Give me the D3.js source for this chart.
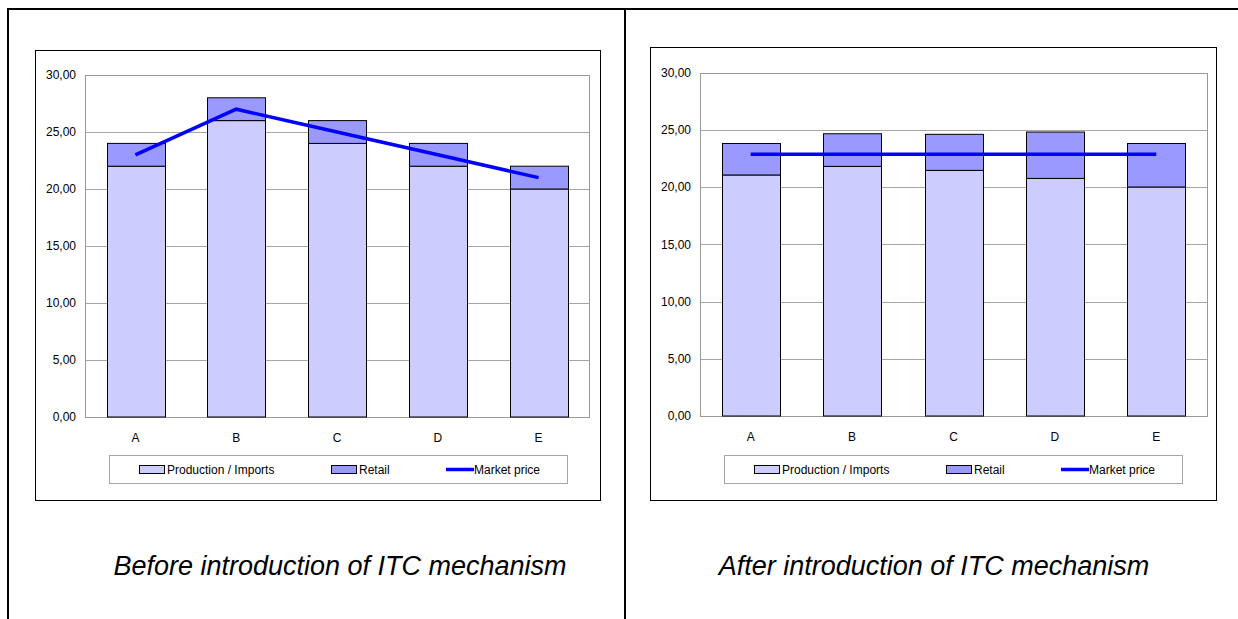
<!DOCTYPE html>
<html>
<head>
<meta charset="utf-8">
<script src="https://cdn.jsdelivr.net/npm/d3@7"></script>
<style>
  html, body { margin: 0; padding: 0; background: #fff; }
  svg { display: block; font-family: "Liberation Sans", Arial, sans-serif; }
</style>
</head>
<body>
<svg id="fig" width="1238" height="619"></svg>
<script>
// Cost build-up per supplier and market price, before and after the ITC mechanism
const categories = ["A", "B", "C", "D", "E"];
const beforeProduction = [22, 26, 24, 22, 20];
const beforeRetail = [2, 2, 2, 2, 2];
const beforePrice = [23, 27, 25, 23, 21];
const afterProduction = [21.05, 21.8, 21.45, 20.75, 20.0];
const afterRetail = [2.75, 2.85, 3.15, 4.05, 3.8];
const afterPrice = [22.85, 22.85, 22.85, 22.85, 22.85];
const yTicks = [0, 5, 10, 15, 20, 25, 30];
const seriesNames = ["Production / Imports", "Retail", "Market price"];
const captions = ["Before introduction of ITC mechanism", "After introduction of ITC mechanism"];

const colors = { production: "#CCCCFF", retail: "#9999FF", price: "#0000FF" };
const fmt = v => d3.format(".2f")(v).replace(".", ",");

const svg = d3.select("#fig");

// Page frame: top rule, left rule and the column divider
svg.append("line").attr("x1", 7).attr("x2", 1238).attr("y1", 9).attr("y2", 9)
  .attr("stroke", "#000").attr("stroke-width", 2);
svg.append("line").attr("x1", 8).attr("x2", 8).attr("y1", 8).attr("y2", 619)
  .attr("stroke", "#000").attr("stroke-width", 2);
svg.append("line").attr("x1", 625).attr("x2", 625).attr("y1", 8).attr("y2", 619)
  .attr("stroke", "#000").attr("stroke-width", 2);

const panels = [
  { box: [35, 50, 600, 500], plot: [85, 75, 589, 417], production: beforeProduction,
    retail: beforeRetail, price: beforePrice, caption: captions[0], captionX: 340 },
  { box: [650, 47, 1216, 500], plot: [700, 72.5, 1207, 416], production: afterProduction,
    retail: afterRetail, price: afterPrice, caption: captions[1], captionX: 934 }
];

panels.forEach(p => {
  const g = svg.append("g");
  const [bx0, by0, bx1, by1] = p.box;
  const [px0, py0, px1, py1] = p.plot;

  // chart area
  g.append("rect").attr("x", bx0 + 0.5).attr("y", by0 + 0.5)
    .attr("width", bx1 - bx0).attr("height", by1 - by0)
    .attr("fill", "#fff").attr("stroke", "#000").attr("stroke-width", 1);

  const x = d3.scaleBand().domain(categories).range([px0, px1]).paddingInner(0.4285).paddingOuter(0.2143);
  const y = d3.scaleLinear().domain([0, 30]).range([py1, py0]);

  // grid lines
  g.append("g").selectAll("line").data(yTicks.slice(1, -1)).join("line")
    .attr("x1", px0).attr("x2", px1)
    .attr("y1", d => Math.round(y(d)) + 0.5).attr("y2", d => Math.round(y(d)) + 0.5)
    .attr("stroke", "#a6a6a6").attr("stroke-width", 1);

  // plot area border
  g.append("rect").attr("x", px0 + 0.5).attr("y", Math.round(py0) + 0.5)
    .attr("width", px1 - px0).attr("height", Math.round(py1) - Math.round(py0))
    .attr("fill", "none").attr("stroke", "#999").attr("stroke-width", 1);

  // y axis labels
  const yAxis = d3.axisLeft(y).tickValues(yTicks).tickFormat(fmt).tickSize(0).tickPadding(9);
  const ya = g.append("g").attr("transform", `translate(${px0},0)`).call(yAxis);
  ya.select(".domain").remove();
  ya.selectAll("text").attr("font-size", 12).attr("fill", "#000")
    .attr("font-family", "'Liberation Sans', Arial, sans-serif");

  // x axis labels
  const xAxis = d3.axisBottom(x).tickSize(0).tickPadding(16);
  const xa = g.append("g").attr("transform", `translate(0,${py1})`).call(xAxis);
  xa.select(".domain").remove();
  xa.selectAll("text").attr("font-size", 12).attr("fill", "#000")
    .attr("font-family", "'Liberation Sans', Arial, sans-serif");

  // stacked bars
  const bw = x.bandwidth();
  g.append("g").selectAll("rect").data(categories).join("rect")
    .attr("x", d => Math.round(x(d)) + 0.5).attr("width", Math.round(bw))
    .attr("y", (d, i) => y(p.production[i])).attr("height", (d, i) => y(0) - y(p.production[i]))
    .attr("fill", colors.production).attr("stroke", "#000").attr("stroke-width", 1);
  g.append("g").selectAll("rect").data(categories).join("rect")
    .attr("x", d => Math.round(x(d)) + 0.5).attr("width", Math.round(bw))
    .attr("y", (d, i) => y(p.production[i] + p.retail[i]))
    .attr("height", (d, i) => y(p.production[i]) - y(p.production[i] + p.retail[i]))
    .attr("fill", colors.retail).attr("stroke", "#000").attr("stroke-width", 1);

  // market price line
  const line = d3.line().x((d, i) => x(categories[i]) + bw / 2).y(d => y(d));
  g.append("path").datum(p.price).attr("d", line)
    .attr("fill", "none").attr("stroke", colors.price).attr("stroke-width", 3.5)
    .attr("stroke-linejoin", "miter");

  // legend
  const lx = px0 + 24, ly = 455;
  const lg = g.append("g").attr("transform", `translate(${lx},${ly})`);
  lg.append("rect").attr("x", 0.5).attr("y", 0.5).attr("width", 458).attr("height", 28)
    .attr("fill", "#fff").attr("stroke", "#a6a6a6").attr("stroke-width", 1);
  const items = [
    { name: seriesNames[0], type: "rect", fill: colors.production, sx: 30 },
    { name: seriesNames[1], type: "rect", fill: colors.retail, sx: 222 },
    { name: seriesNames[2], type: "line", fill: colors.price, sx: 337 }
  ];
  items.forEach(it => {
    if (it.type === "rect") {
      lg.append("rect").attr("x", it.sx + 0.5).attr("y", 10.5).attr("width", 25).attr("height", 8)
        .attr("fill", it.fill).attr("stroke", "#000").attr("stroke-width", 1);
    } else {
      lg.append("line").attr("x1", it.sx).attr("x2", it.sx + 28).attr("y1", 14.5).attr("y2", 14.5)
        .attr("stroke", it.fill).attr("stroke-width", 3.5);
    }
    lg.append("text").attr("x", it.sx + 28).attr("y", 19)
      .attr("font-size", 12).attr("fill", "#000").text(it.name);
  });

  // caption
  svg.append("text").attr("x", p.captionX).attr("y", 575).attr("text-anchor", "middle")
    .attr("font-size", 27).attr("font-style", "italic").attr("fill", "#000").text(p.caption);
});
</script>
</body>
</html>
